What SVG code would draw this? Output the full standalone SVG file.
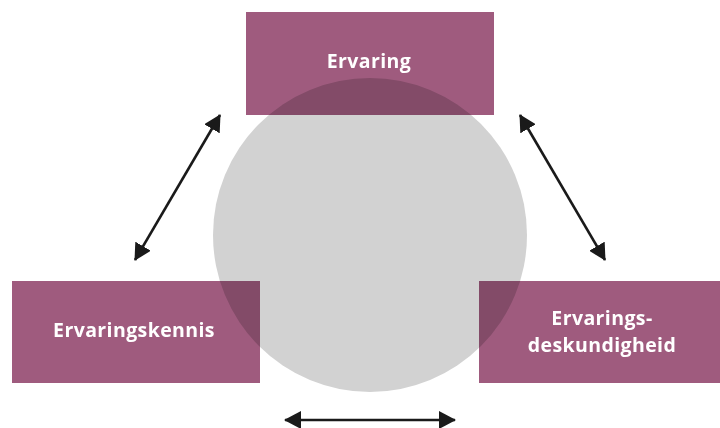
<svg xmlns="http://www.w3.org/2000/svg" width="720" height="428" viewBox="0 0 720 428">
<style>
.box{fill:#9F5B7E}
.lbl{font-family:"Open Sans","DejaVu Sans",sans-serif;font-weight:bold;font-size:19.5px;fill:#fff;text-anchor:middle;letter-spacing:0.4px}
.conn{stroke:#1a1a1a;stroke-width:2.6;fill:none;marker-start:url(#ah);marker-end:url(#ah)}
</style>
<defs>
<marker id="ah" viewBox="0 0 17 18" refX="16" refY="9" markerWidth="17" markerHeight="18" markerUnits="userSpaceOnUse" orient="auto-start-reverse">
<path d="M0,0 L17,9 L0,18 z" fill="#1a1a1a"/>
</marker>
</defs>
<rect width="720" height="428" fill="#fff"/>
<g id="ervaring">
<rect class="box" x="246" y="12" width="248" height="103"/>
<text class="lbl" x="369" y="68">Ervaring</text>
</g>
<g id="ervaringskennis">
<rect class="box" x="12" y="281" width="248" height="102"/>
<text class="lbl" x="134" y="337">Ervaringskennis</text>
</g>
<g id="ervaringsdeskundigheid">
<rect class="box" x="479" y="281" width="248" height="102"/>
<text class="lbl" x="602" y="325">Ervarings-</text>
<text class="lbl" x="602" y="352">deskundigheid</text>
</g>
<g id="circle">
<circle cx="370" cy="235" r="157" fill="#D2D2D2" style="mix-blend-mode:multiply"/>
</g>
<g id="connectors">
<line class="conn" x1="135" y1="260" x2="220" y2="115"/>
<line class="conn" x1="520" y1="115" x2="605" y2="260"/>
<line class="conn" x1="285" y1="420" x2="455" y2="420"/>
</g>
</svg>
